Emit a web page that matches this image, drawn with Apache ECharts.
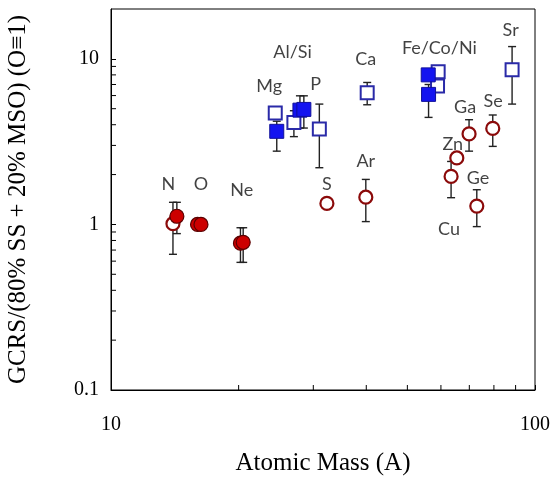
<!DOCTYPE html>
<html>
<head>
<meta charset="utf-8">
<script src="https://cdn.jsdelivr.net/npm/echarts@6/dist/echarts.min.js"></script>
<style>
  html, body { margin: 0; padding: 0; background: #fff; }
  #chart { width: 555px; height: 477px; }
</style>
</head>
<body>
<div id="chart"></div>
<script>
  // filled red circles (N, O, O, Ne, Ne)
  var fcMass = [14.3, 16.0, 16.3, 20.2, 20.5]
  var fcRatio = [1.12, 1.0, 1.0, 0.77, 0.78]
  var fcLow = [0.88, 0.93, 0.93, 0.59, 0.59]
  var fcHigh = [1.36, 1.07, 1.07, 0.955, 0.955]

  // open red circles (N, S, Ar, Cu, Zn, Ga, Ge, Se)
  var ocMass = [14.0, 32.3, 39.9, 63.4, 65.4, 69.9, 72.9, 79.5]
  var ocRatio = [1.01, 1.34, 1.46, 1.95, 2.52, 3.52, 1.29, 3.8]
  var ocLow = [0.66, null, 1.04, 1.45, null, 2.77, 0.97, 2.96]
  var ocHigh = [1.36, null, 1.87, 2.4, null, 4.29, 1.62, 4.58]

  // filled blue squares (Mg, Si, Si, Fe, Fe)
  var fsMass = [24.6, 27.9, 28.5, 56.0, 56.1]
  var fsRatio = [3.65, 4.9, 4.95, 8.0, 6.1]
  var fsLow = [2.77, 3.82, 3.82, null, 4.43]
  var fsHigh = [4.2, 5.98, 5.98, null, 7.0]

  // open blue squares (Mg, Al, P, Ca, Co, Ni, Sr)
  var osMass = [24.4, 27.0, 31.0, 40.2, 59.1, 58.9, 88.3]
  var osRatio = [4.71, 4.13, 3.77, 6.24, 8.35, 6.85, 8.58]
  var osLow = [null, 3.39, 2.2, 5.28, null, null, 5.33]
  var osHigh = [null, 4.86, 5.33, 7.2, null, null, 11.86]

  // element labels, anchored in data units
  var labelText = ['N', 'O', 'Ne', 'S', 'Ar', 'Ge', 'Cu', 'Mg', 'Al/Si', 'P', 'Ca', 'Fe/Co/Ni', 'Sr', 'Ga', 'Se', 'Zn']
  var labelMass = [13.65, 16.3, 20.34, 32.3, 39.9, 73.4, 62.7, 23.6, 26.8, 30.4, 39.9, 59.5, 87.6, 68.4, 79.7, 64.0]
  var labelRatio = [1.76, 1.76, 1.60, 1.76, 2.41, 1.91, 0.94, 6.88, 10.9, 7.04, 9.96, 11.6, 14.9, 5.14, 5.58, 3.06]

  // minor ticks
  var yMinor = [0.2, 0.3, 0.4, 0.5, 0.6, 0.7, 0.8, 0.9, 2, 3, 4, 5, 6, 7, 8, 9]
  var xMinor = [20, 30, 40, 50, 60, 70, 80, 90]

  function zip(a, b) {
    var out = []
    for (var i = 0; i < a.length; i++) out.push([a[i], b[i]])
    return out
  }

  function errData(mass, low, high) {
    var out = []
    for (var i = 0; i < mass.length; i++) {
      if (low[i] != null) out.push([mass[i], low[i], high[i]])
    }
    return out
  }

  var allErr = [].concat(
    errData(fcMass, fcLow, fcHigh),
    errData(ocMass, ocLow, ocHigh),
    errData(fsMass, fsLow, fsHigh),
    errData(osMass, osLow, osHigh)
  )

  var labels = []
  for (var i = 0; i < labelText.length; i++) {
    labels.push({name: labelText[i], value: [labelMass[i], labelRatio[i]]})
  }

  var serif = '"Liberation Serif", "Times New Roman", serif'
  var sans = 'Lato, "Open Sans", sans-serif'

  var chart = echarts.init(document.getElementById('chart'))
  chart.setOption({
    animation: false,
    grid: {
      left: 111, right: 20, top: 9, bottom: 87, outerBoundsMode: 'none',
      show: true, borderColor: '#000', borderWidth: 1
    },
    xAxis: {
      type: 'log', logBase: 10, min: 10, max: 100,
      name: 'Atomic Mass (A)', nameLocation: 'middle', nameGap: 61,
      nameTextStyle: {fontFamily: serif, fontSize: 25, color: '#000'},
      axisLine: {lineStyle: {color: '#000'}},
      axisTick: {inside: true, length: 5, lineStyle: {color: '#000'}},
      axisLabel: {fontFamily: serif, fontSize: 20, color: '#000', margin: 25},
      splitLine: {show: false}
    },
    yAxis: {
      type: 'log', logBase: 10, min: 0.1, max: 20,
      name: 'GCRS/(80% SS + 20% MSO) (O\u22611)', nameLocation: 'middle', nameGap: 80,
      nameTextStyle: {fontFamily: serif, fontSize: 25, color: '#000'},
      axisLine: {lineStyle: {color: '#000'}},
      axisTick: {inside: true, length: 5, lineStyle: {color: '#000'}},
      axisLabel: {fontFamily: serif, fontSize: 20, color: '#000', margin: 12, showMaxLabel: false},
      splitLine: {show: false}
    },
    series: [
      {
        type: 'custom', name: 'yMinor', clip: false, silent: true, z: 1,
        data: yMinor.map(function (v) { return [10, v] }),
        renderItem: function (params, api) {
          var p = api.coord([api.value(0), api.value(1)])
          return {type: 'line', shape: {x1: p[0], y1: p[1], x2: p[0] + 5, y2: p[1]}, style: {stroke: '#000', lineWidth: 1}}
        }
      },
      {
        type: 'custom', name: 'xMinor', clip: false, silent: true, z: 1,
        data: xMinor.map(function (v) { return [v, 0.1] }),
        renderItem: function (params, api) {
          var p = api.coord([api.value(0), api.value(1)])
          return {type: 'line', shape: {x1: p[0], y1: p[1], x2: p[0], y2: p[1] - 5}, style: {stroke: '#000', lineWidth: 1}}
        }
      },
      {
        type: 'custom', name: 'errors', z: 2,
        data: allErr,
        renderItem: function (params, api) {
          var lo = api.coord([api.value(0), api.value(1)])
          var hi = api.coord([api.value(0), api.value(2)])
          var w = 4
          var st = {stroke: '#222', lineWidth: 1.4}
          return {
            type: 'group',
            children: [
              {type: 'line', shape: {x1: lo[0], y1: lo[1], x2: hi[0], y2: hi[1]}, style: st},
              {type: 'line', shape: {x1: lo[0] - w, y1: lo[1], x2: lo[0] + w, y2: lo[1]}, style: st},
              {type: 'line', shape: {x1: hi[0] - w, y1: hi[1], x2: hi[0] + w, y2: hi[1]}, style: st}
            ]
          }
        }
      },
      {
        type: 'scatter', name: 'open circles', z: 3,
        data: zip(ocMass, ocRatio), symbol: 'circle', symbolSize: 13,
        itemStyle: {color: '#fff', borderColor: '#8b0a0a', borderWidth: 2.2, opacity: 1}
      },
      {
        type: 'scatter', name: 'filled circles', z: 4,
        data: zip(fcMass, fcRatio), symbol: 'circle', symbolSize: 14,
        itemStyle: {color: '#cc0000', borderColor: '#5a0000', borderWidth: 1.2, opacity: 1}
      },
      {
        type: 'scatter', name: 'open squares', z: 3,
        data: zip(osMass, osRatio), symbol: 'rect', symbolSize: 13,
        itemStyle: {color: '#fff', borderColor: '#2a2aa8', borderWidth: 2, opacity: 1}
      },
      {
        type: 'scatter', name: 'filled squares', z: 4,
        data: zip(fsMass, fsRatio), symbol: 'rect', symbolSize: 14,
        itemStyle: {color: '#1414f0', borderColor: '#10109a', borderWidth: 1, opacity: 1}
      },
      {
        type: 'scatter', name: 'labels', z: 5, silent: true,
        data: labels, symbolSize: 0,
        label: {
          show: true, position: 'inside', formatter: '{b}',
          fontFamily: sans, fontSize: 18, color: '#111'
        }
      }
    ]
  })
</script>
</body>
</html>
